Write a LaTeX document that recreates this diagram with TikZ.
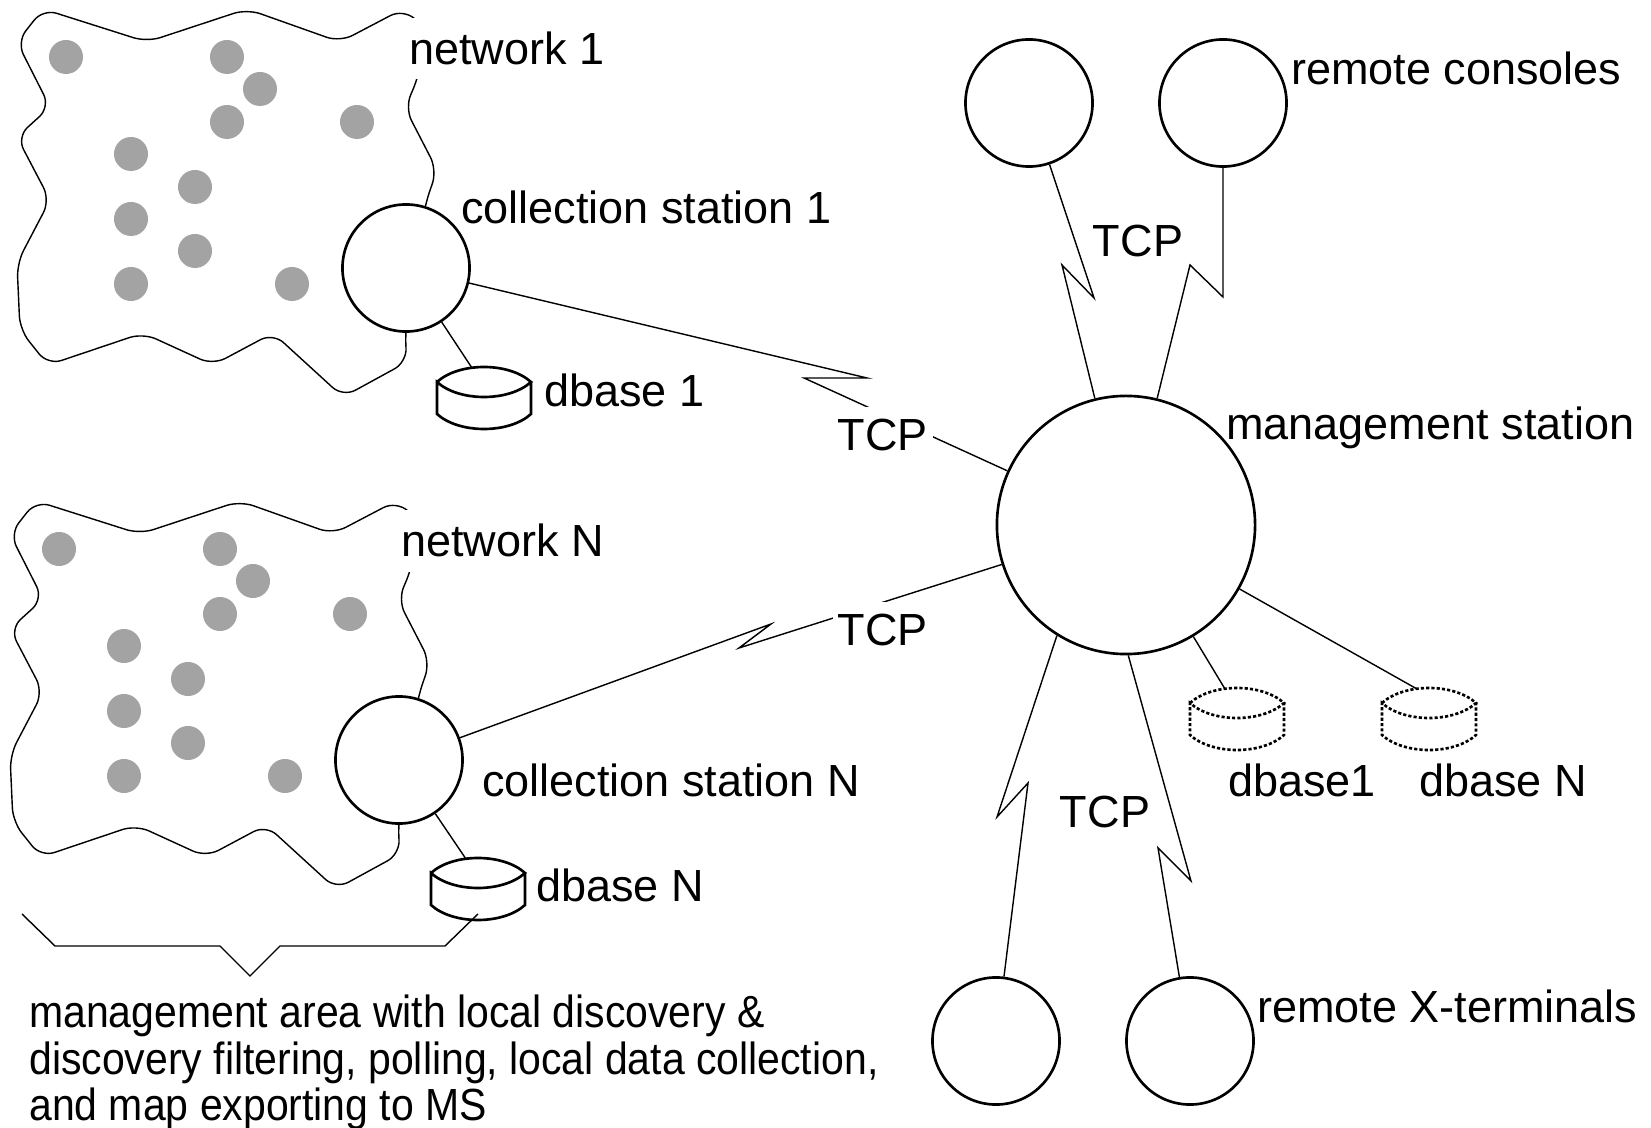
\documentclass[tikz,border=0pt]{standalone}
\usepackage{fontspec}
\setmainfont{Liberation Sans}
\newfontfamily\narrowfont[FakeStretch=0.91]{Liberation Sans}
\usetikzlibrary{positioning, backgrounds}
\newcommand{\lblfont}{\fontsize{12.8pt}{13.2pt}\selectfont}
\definecolor{hostgray}{RGB}{163,163,163}
\tikzset{
  dbase/.pic={
    \draw (-47,-16) .. controls (-25,-36) and (25,-36) .. (47,-16)
          .. controls (25,4) and (-25,4) .. (-47,-16) -- (-47,16)
          .. controls (-25,36) and (25,36) .. (47,16) -- (47,-16);
    \coordinate (-top) at (-12,-30);
  }
}

\begin{document}
\begin{tikzpicture}[
    x=0.01cm, y=-0.01cm, line width=0.75pt,
    station/.style={circle, draw, fill=white, minimum size=1.27cm, inner sep=0},
    mgmt/.style={station, minimum size=2.58cm},
    host/.style={fill=hostgray},
    lbl/.style={anchor=base west, inner sep=0, font=\lblfont},
    netlbl/.style={lbl, fill=white, inner sep=4pt},
    tcp/.style={fill=white, inner xsep=1.5pt, inner ysep=3.4pt, font=\lblfont},
    cloud/.style={rounded corners=4pt},
    offline/.style={dash pattern=on 0.9pt off 0.6pt}
  ]
  \useasboundingbox (0,0) rectangle (1651,1128);

  % stations
  \node (cs1) [station] at (406,268) {};
  \node (csn) [station] at (399,760) {};
  \node (ms) [mgmt] at (1126,525) {};
  \node (con1) [station] at (1029,103) {};
  \node (con2) [station] at (1223,103) {};
  \node (term1) [station] at (996,1041) {};
  \node (term2) [station] at (1190,1041) {};

  % databases
  \pic (db1) at (484,398) {dbase};
  \pic (dbn) at (478,889) {dbase};
  \pic[offline] (dbr1) at (1237,719) {dbase};
  \pic[offline] (dbr2) at (1429,719) {dbase};

  % labels
  \node (net1) [netlbl] at (394,65) {network 1};
  \node (netn) [netlbl] at (386,557) {network N};
  \node (cs1lbl) [lbl] at (460,224) {collection station 1};
  \node (csnlbl) [lbl] at (481,797) {collection station N};
  \node (db1lbl) [lbl] at (543,407) {dbase 1};
  \node (dbnlbl) [lbl] at (535,902) {dbase N};
  \node (mslbl) [lbl] at (1225,440) {management station};
  \node (conlbl) [lbl] at (1290,85) {remote consoles};
  \node (termlbl) [lbl] at (1256,1022) {remote X-terminals};
  \node (dbr1lbl) [lbl] at (1227,797) {dbase1};
  \node (dbr2lbl) [lbl] at (1418,797) {dbase N};
  \node (area) [lbl, anchor=north west, align=left, font=\narrowfont\lblfont] at (28,994)
    {management area with local discovery \&\\discovery filtering, polling, local data collection,\\and map exporting to MS};

  % TCP labels
  \node (tcp1) [tcp] at (883,435) {TCP};
  \node (tcp2) [tcp] at (883,630) {TCP};
  \node (tcp3) [tcp] at (1138,241) {TCP};
  \node (tcp4) [tcp] at (1105,812) {TCP};

  % zigzag points
  \coordinate (z1a) at (867,378);
  \coordinate (z1b) at (804,378);
  \coordinate (z2a) at (771,624);
  \coordinate (z2b) at (739,648);
  \coordinate (z3a) at (1094,298);
  \coordinate (z3b) at (1062,265);
  \coordinate (z4a) at (1223,297);
  \coordinate (z4b) at (1190,265);
  \coordinate (z5a) at (997,817);
  \coordinate (z5b) at (1028,783);
  \coordinate (z6a) at (1191,881);
  \coordinate (z6b) at (1158,848);

  \begin{scope}[on background layer]
    % networks
    \foreach \dx/\dy in {0/0, -7/492} {
      \begin{scope}[shift={(\dx,\dy)}]
        \draw[cloud] (17,42) -- (43,9) -- (147,42) -- (247,9) -- (340,42) -- (403,9)
          -- (428,30) -- (418,78) -- (405,108) -- (437,170) -- (425,205) -- (405,333)
          -- (407,362) -- (343,397) -- (273,333) -- (213,365) -- (143,333) -- (48,365)
          -- (20,330) -- (17,263) -- (50,200) -- (17,137) -- (50,107) -- cycle;
        \foreach \hx/\hy in {66/57, 227/57, 260/89, 227/122, 357/122, 131/154,
                             195/187, 131/219, 195/251, 131/284, 292/284}
          \fill[host] (\hx,\hy) circle[radius=0.17cm];
      \end{scope}
    }

    % links
    \draw (cs1) -- (z1a) -- (z1b) -- (ms);
    \draw (csn) -- (z2a) -- (z2b) -- (ms);
    \draw (con1) -- (z3a) -- (z3b) -- (ms);
    \draw (con2) -- (z4a) -- (z4b) -- (ms);
    \draw (ms.-122) -- (z5a) -- (z5b) -- (term1);
    \draw (ms.-89) -- (z6a) -- (z6b) -- (term2);
    \draw (cs1) -- (db1-top);
    \draw (csn) -- (dbn-top);
    \draw (ms) -- (dbr1-top);
    \draw (ms) -- (dbr2-top);

    % management area
    \draw (22,914) -- (55,946) -- (220,946) -- (250,976) -- (280,946) -- (445,946) -- (478,914);
  \end{scope}
\end{tikzpicture}
\end{document}
